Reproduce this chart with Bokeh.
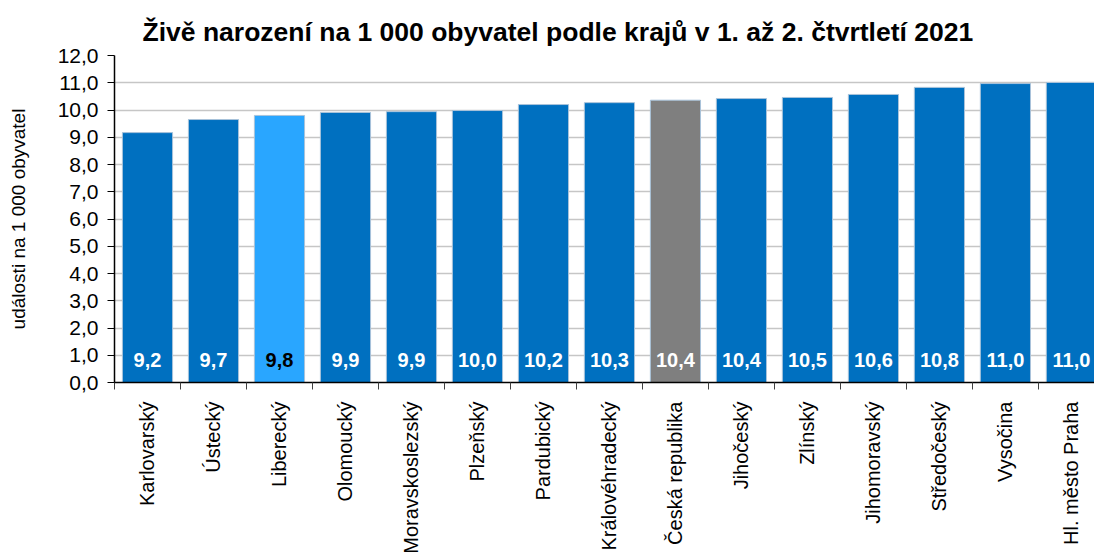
import math
from bokeh.plotting import figure
from bokeh.models import ColumnDataSource, FixedTicker, Range1d
from bokeh.core.properties import value
from bokeh.embed import file_html
from bokeh.resources import INLINE

# ---- data ----
regions = ["Karlovarský", "Ústecký", "Liberecký", "Olomoucký", "Moravskoslezský",
           "Plzeňský", "Pardubický", "Královéhradecký", "Česká republika", "Jihočeský",
           "Zlínský", "Jihomoravský", "Středočeský", "Vysočina", "Hl. město Praha"]
rates = [9.17, 9.65, 9.80, 9.91, 9.94, 9.98, 10.20, 10.27, 10.36, 10.42,
         10.46, 10.57, 10.83, 10.97, 11.01]
rate_labels = ["9,2", "9,7", "9,8", "9,9", "9,9", "10,0", "10,2", "10,3", "10,4",
               "10,4", "10,5", "10,6", "10,8", "11,0", "11,0"]
y_ticks = [0, 1, 2, 3, 4, 5, 6, 7, 8, 9, 10, 11, 12]
y_tick_labels = ["0,0", "1,0", "2,0", "3,0", "4,0", "5,0", "6,0", "7,0", "8,0",
                 "9,0", "10,0", "11,0", "12,0"]
title_text = "Živě narození na 1 000 obyvatel podle krajů v 1. až 2. čtvrtletí 2021"
y_label_text = "události na 1 000 obyvatel"

# ---- styling ----
FONT = "Liberation Sans"
BLUE = "#0070C0"
LIGHT = "#29A6FF"
GRAY = "#7F7F7F"
special_fill = {"Liberecký": LIGHT, "Česká republika": GRAY}
special_text = {"Liberecký": "#000000"}

n = len(regions)
centers = [i + 0.5 for i in range(n)]
src = ColumnDataSource(dict(
    x=centers,
    rate=rates,
    label=rate_labels,
    fill=[special_fill.get(r, BLUE) for r in regions],
    tcol=[special_text.get(r, "#FFFFFF") for r in regions],
    base=[0] * n,
))

p = figure(width=1094, height=556,
           x_range=Range1d(0, 14.85), y_range=Range1d(0, 12),
           output_backend="svg", toolbar_location=None,
           min_border_left=114, min_border_right=0,
           min_border_top=55, min_border_bottom=174)
p.outline_line_color = None
p.background_fill_color = "white"
p.border_fill_color = "white"

p.title.text = title_text
p.title.text_font = FONT
p.title.text_font_size = "26.5px"
p.title.text_font_style = "bold"
p.title.text_color = "#000000"
p.title.align = "left"
p.title.offset = 28
p.title.standoff = 18

p.vbar(x="x", top="rate", bottom=0, width=0.76, fill_color="fill",
       line_color="#A9C3DA", line_width=1, source=src)

p.text(x="x", y="base", text="label", text_color="tcol",
       text_font=value(FONT), text_font_size="20px", text_font_style="bold",
       text_align="center", text_baseline="middle", y_offset=-23, source=src)

# x axis
xa = p.xaxis[0]
xa.ticker = FixedTicker(ticks=centers, minor_ticks=list(range(0, n)))
xa.major_label_overrides = {c: r for c, r in zip(centers, regions)}
xa.major_label_orientation = math.pi / 2
xa.major_label_text_font = FONT
xa.major_label_text_font_size = "20px"
xa.major_label_text_color = "#000000"
xa.major_tick_out = 0
xa.major_tick_in = 0
xa.minor_tick_out = 7
xa.minor_tick_in = 0
xa.minor_tick_line_color = "#404040"
xa.axis_line_color = "#000000"
xa.axis_line_width = 1.5
xa.major_label_standoff = 12

# y axis
ya = p.yaxis[0]
ya.ticker = FixedTicker(ticks=y_ticks)
ya.major_label_overrides = {t: l for t, l in zip(y_ticks, y_tick_labels)}
ya.major_label_text_font = FONT
ya.major_label_text_font_size = "21px"
ya.major_label_text_color = "#000000"
ya.major_tick_out = 7
ya.major_tick_in = 0
ya.minor_tick_out = 0
ya.minor_tick_in = 0
ya.axis_line_color = "#000000"
ya.axis_line_width = 1.5
ya.major_tick_line_color = "#000000"
ya.major_label_standoff = 9
ya.axis_label = y_label_text
ya.axis_label_text_font = FONT
ya.axis_label_text_font_size = "19px"
ya.axis_label_text_font_style = "normal"
ya.axis_label_text_color = "#000000"
ya.axis_label_standoff = 26

p.xgrid.visible = False
p.ygrid.ticker = FixedTicker(ticks=y_ticks)
p.ygrid.grid_line_color = "#C6C6C6"
p.ygrid.grid_line_width = 1.5

open("out.html", "w").write(file_html(p, INLINE))
